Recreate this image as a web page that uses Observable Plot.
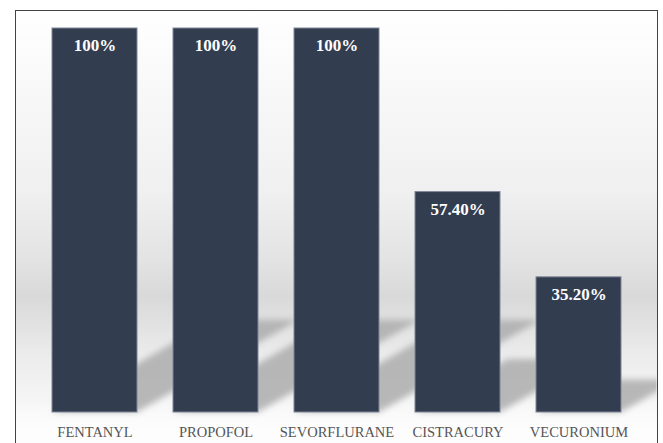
<!DOCTYPE html>
<html>
<head>
<meta charset="utf-8">
<script src="https://cdn.jsdelivr.net/npm/d3@7"></script>
<script src="https://cdn.jsdelivr.net/npm/@observablehq/plot@0.6"></script>
<style>
  html, body { margin: 0; padding: 0; background: #ffffff; }
  #wrap { position: relative; width: 663px; height: 443px; overflow: hidden; background: #ffffff; }
  #box {
    position: absolute; left: 15px; top: 10px; width: 643px; height: 460px;
    box-sizing: border-box; border: 1.5px solid #444444;
    background: linear-gradient(to bottom,
      #ffffff 0px, #f8f8f8 80px, #f0f0f0 180px, #e4e4e4 245px, #d9d9d9 285px,
      #e2e2e2 315px, #ececec 345px, #f5f5f5 390px, #fafafa 402px, #fdfdfd 420px, #ffffff 460px);
  }
  #chart { position: absolute; left: 0; top: 0; }
</style>
</head>
<body>
<div id="wrap"><div id="box"></div><div id="chart"></div></div>
<script>
const drugs = ["FENTANYL", "PROPOFOL", "SEVORFLURANE", "CISTRACURY", "VECURONIUM"];
const percents = [100, 100, 100, 57.4, 35.2];
const valueLabels = ["100%", "100%", "100%", "57.40%", "35.20%"];

const table = drugs.map((d, i) => ({drug: d, pct: percents[i], label: valueLabels[i]}));

const plot = Plot.plot({
  width: 663,
  height: 443,
  marginTop: 28,
  marginBottom: 31,
  marginLeft: 51,
  marginRight: 42,
  style: {background: "transparent", fontFamily: "'Liberation Serif', 'Times New Roman', serif", color: "#555555", overflow: "visible"},
  x: {domain: drugs, paddingInner: 0.3, paddingOuter: 0, label: null},
  y: {domain: [0, 100], axis: null},
  marks: [
    Plot.barY(table, {x: "drug", y: "pct", fill: "#adadad", fillOpacity: 0.85}),
    Plot.barY(table, {x: "drug", y: "pct", fill: "#333d50", stroke: "#7e8898", strokeWidth: 1}),
    Plot.text(table, {x: "drug", y: "pct", text: "label", dy: 17, fill: "#ffffff", fontWeight: "bold", fontSize: 17}),
    Plot.axisX({tickSize: 0, tickPadding: 14, fontSize: 14.5, label: null})
  ]
});

// perspective shadow: skew the first (shadow) bar group from its baseline
const ns = "http://www.w3.org/2000/svg";
const y0 = plot.scale("y").apply(0);
const k = 0.24, c = k / 0.57;
const defs = document.createElementNS(ns, "defs");
defs.innerHTML = `<filter id="shBlur" x="-50%" y="-50%" width="200%" height="200%"><feGaussianBlur stdDeviation="3"/></filter>
<clipPath id="boxClip"><rect x="16.5" y="11.5" width="640" height="440"/></clipPath>`;
plot.insertBefore(defs, plot.firstChild);
const barGroups = plot.querySelectorAll('g[aria-label="bar"]');
const g = barGroups[0];
if (g) {
  const outer = document.createElementNS(ns, "g");
  outer.setAttribute("clip-path", "url(#boxClip)");
  const mid = document.createElementNS(ns, "g");
  mid.setAttribute("filter", "url(#shBlur)");
  const inner = document.createElementNS(ns, "g");
  inner.setAttribute("transform", `matrix(1,0,${-c},${k},${y0 * c},${y0 * (1 - k)})`);
  g.parentNode.insertBefore(outer, g);
  outer.appendChild(mid);
  mid.appendChild(inner);
  inner.appendChild(g);
}

document.getElementById("chart").appendChild(plot);
</script>
</body>
</html>
